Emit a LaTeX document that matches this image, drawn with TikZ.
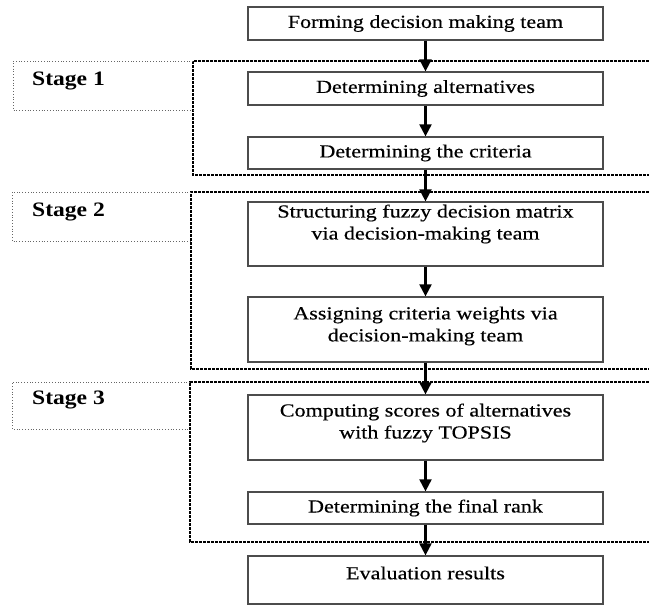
\documentclass[tikz,border=0pt]{standalone}
\usepackage{fontspec}
\setmainfont{Liberation Serif}[FakeStretch=1.2,FakeBold=0.4]
\newfontfamily\stagefont{Liberation Serif Bold}[FakeStretch=1.15]
\usetikzlibrary{arrows.meta}
\begin{document}
\begin{tikzpicture}[x=1pt,y=-1pt,
  stepbox/.style={draw=black!70, line width=1.3pt, minimum width=355pt, inner sep=0pt},
  txt/.style={font=\fontsize{18.4}{22}\selectfont, align=center, inner sep=0pt},
  stagetxt/.style={font=\fontsize{20.5}{24}\stagefont, inner sep=0pt, anchor=west},
  stageframe/.style={draw=black, line width=1.4pt, dash pattern=on 3pt off 1pt},
  lab/.style={draw=black!60, line width=0.8pt, dotted},
  arr/.style={line width=2.2pt, -{Triangle[width=12pt,length=12pt]}}]
\useasboundingbox (0,0) rectangle (649,606);
% stage frames
\draw[stageframe] (649,61) -- (193,61) -- (193,175) -- (649,175);
\draw[lab] (193,61) -- (13,61) -- (13,110) -- (193,110);
\draw[stageframe] (649,192) -- (191,192) -- (191,369) -- (649,369);
\draw[lab] (191,192) -- (12,192) -- (12,241) -- (191,241);
\draw[stageframe] (649,382) -- (190,382) -- (190,542) -- (649,542);
\draw[lab] (190,382) -- (12,382) -- (12,429) -- (190,429);
\node[stagetxt] (s1) at (32,81) {Stage 1};
\node[stagetxt] (s2) at (32,212) {Stage 2};
\node[stagetxt] (s3) at (32,400) {Stage 3};
% boxes
\node[stepbox, minimum height=33pt] (b0) at (425.5,23.5) {};
\node[stepbox, minimum height=33pt] (b1) at (425.5,88.5) {};
\node[stepbox, minimum height=32pt] (b2) at (425.5,153) {};
\node[stepbox, minimum height=64pt] (b3) at (425.5,234) {};
\node[stepbox, minimum height=65pt] (b4) at (425.5,329.5) {};
\node[stepbox, minimum height=65pt] (b5) at (425.5,427.5) {};
\node[stepbox, minimum height=32pt] (b6) at (425.5,508) {};
\node[stepbox, minimum height=48pt] (b7) at (425.5,580) {};
% texts
\node[txt] (t0) at (425.5,23.5) {Forming decision making team};
\node[txt] (t1) at (425.5,88.5) {Determining alternatives};
\node[txt] (t2) at (425.5,153) {Determining the criteria};
\node[txt] (t3) at (425.5,224) {Structuring fuzzy decision matrix\\via decision-making team};
\node[txt] (t4) at (425.5,326) {Assigning criteria weights via\\decision-making team};
\node[txt] (t5) at (425.5,423) {Computing scores of alternatives\\with fuzzy TOPSIS};
\node[txt] (t6) at (425.5,508) {Determining the final rank};
\node[txt] (t7) at (425.5,573) {Evaluation results};
% arrows
\draw[arr] (b0.south) -- (b1.north);
\draw[arr] (b1.south) -- (b2.north);
\draw[arr] (b2.south) -- (b3.north);
\draw[arr] (b3.south) -- (b4.north);
\draw[arr] (b4.south) -- (b5.north);
\draw[arr] (b5.south) -- (b6.north);
\draw[arr] (b6.south) -- (b7.north);
\end{tikzpicture}
\end{document}
